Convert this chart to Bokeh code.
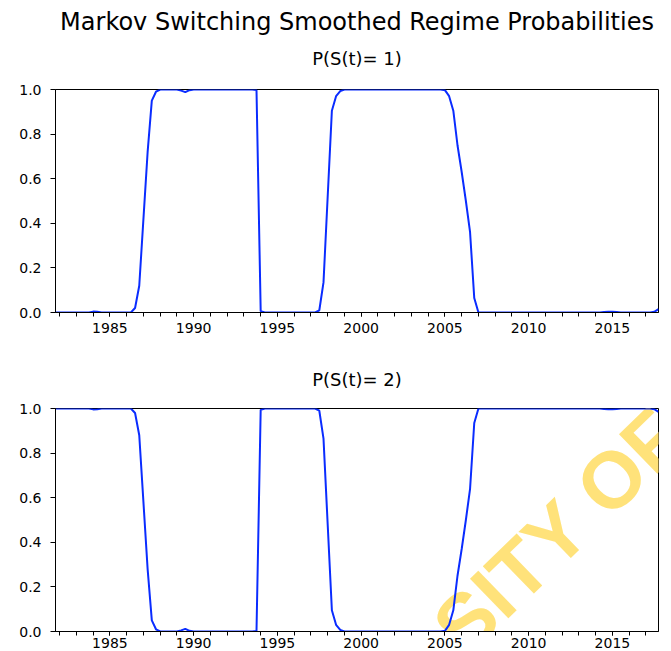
from bokeh.plotting import figure
from bokeh.layouts import column
from bokeh.models import (Range1d, SingleIntervalTicker, FixedTicker,
                          PrintfTickFormatter, Label, LinearAxis, Title)
from bokeh.embed import file_html
from bokeh.resources import INLINE

# ---------------- data (quarterly, 1981Q4 .. 2017Q4) ----------------
start_year = 1981.75
n_obs = 145
dates = [start_year + 0.25 * i for i in range(n_obs)]

prob_regime1 = (
    [0.0] +
    [0.0, 0.0, 0.0, 0.0] +          # 1982
    [0.0, 0.0, 0.0, 0.0] +          # 1983
    [0.004, 0.003, 0.0, 0.0] +      # 1984
    [0.0, 0.0, 0.0, 0.0] +          # 1985
    [0.0, 0.0, 0.02, 0.12] +        # 1986
    [0.42, 0.72, 0.95, 0.99] +      # 1987
    [1.0, 1.0, 1.0, 1.0] +          # 1988
    [1.0, 0.995, 0.988, 0.997] +    # 1989
    [1.0, 1.0, 1.0, 1.0] +          # 1990
    [1.0, 1.0, 1.0, 1.0] +          # 1991
    [1.0, 1.0, 1.0, 1.0] +          # 1992
    [1.0, 1.0, 1.0, 0.998] +        # 1993
    [0.006, 0.0, 0.0, 0.0] +        # 1994
    [0.0, 0.0, 0.0, 0.0] +          # 1995
    [0.0, 0.0, 0.0, 0.0] +          # 1996
    [0.0, 0.0, 0.01, 0.135] +       # 1997
    [0.52, 0.905, 0.97, 0.993] +    # 1998
    [1.0, 1.0, 1.0, 1.0] +          # 1999
    [1.0, 1.0, 1.0, 1.0] +          # 2000
    [1.0, 1.0, 1.0, 1.0] +          # 2001
    [1.0, 1.0, 1.0, 1.0] +          # 2002
    [1.0, 1.0, 1.0, 1.0] +          # 2003
    [1.0, 1.0, 1.0, 1.0] +          # 2004
    [0.997, 0.97, 0.905, 0.75] +    # 2005
    [0.63, 0.50, 0.36, 0.065] +     # 2006
    [0.0, 0.0, 0.0, 0.0] +          # 2007
    [0.0, 0.0, 0.0, 0.0] +          # 2008
    [0.0, 0.0, 0.0, 0.0] +          # 2009
    [0.0, 0.0, 0.0, 0.0] +          # 2010
    [0.0, 0.0, 0.0, 0.0] +          # 2011
    [0.0, 0.0, 0.0, 0.0] +          # 2012
    [0.0, 0.0, 0.0, 0.0] +          # 2013
    [0.0, 0.0, 0.002, 0.003] +      # 2014
    [0.003, 0.002, 0.0, 0.0] +      # 2015
    [0.0, 0.0, 0.0, 0.0] +          # 2016
    [0.0, 0.0, 0.003, 0.015]        # 2017
)

prob_regime2 = (
    [1.0] +
    [1.0, 1.0, 1.0, 1.0] +          # 1982
    [1.0, 1.0, 1.0, 1.0] +          # 1983
    [0.996, 0.997, 1.0, 1.0] +      # 1984
    [1.0, 1.0, 1.0, 1.0] +          # 1985
    [1.0, 1.0, 0.98, 0.88] +        # 1986
    [0.58, 0.28, 0.05, 0.01] +      # 1987
    [0.0, 0.0, 0.0, 0.0] +          # 1988
    [0.0, 0.005, 0.012, 0.003] +    # 1989
    [0.0, 0.0, 0.0, 0.0] +          # 1990
    [0.0, 0.0, 0.0, 0.0] +          # 1991
    [0.0, 0.0, 0.0, 0.0] +          # 1992
    [0.0, 0.0, 0.0, 0.002] +        # 1993
    [0.994, 1.0, 1.0, 1.0] +        # 1994
    [1.0, 1.0, 1.0, 1.0] +          # 1995
    [1.0, 1.0, 1.0, 1.0] +          # 1996
    [1.0, 1.0, 0.99, 0.865] +       # 1997
    [0.48, 0.095, 0.03, 0.007] +    # 1998
    [0.0, 0.0, 0.0, 0.0] +          # 1999
    [0.0, 0.0, 0.0, 0.0] +          # 2000
    [0.0, 0.0, 0.0, 0.0] +          # 2001
    [0.0, 0.0, 0.0, 0.0] +          # 2002
    [0.0, 0.0, 0.0, 0.0] +          # 2003
    [0.0, 0.0, 0.0, 0.0] +          # 2004
    [0.003, 0.03, 0.095, 0.25] +    # 2005
    [0.37, 0.50, 0.64, 0.935] +     # 2006
    [1.0, 1.0, 1.0, 1.0] +          # 2007
    [1.0, 1.0, 1.0, 1.0] +          # 2008
    [1.0, 1.0, 1.0, 1.0] +          # 2009
    [1.0, 1.0, 1.0, 1.0] +          # 2010
    [1.0, 1.0, 1.0, 1.0] +          # 2011
    [1.0, 1.0, 1.0, 1.0] +          # 2012
    [1.0, 1.0, 1.0, 1.0] +          # 2013
    [1.0, 1.0, 0.998, 0.997] +      # 2014
    [0.997, 0.998, 1.0, 1.0] +      # 2015
    [1.0, 1.0, 1.0, 1.0] +          # 2016
    [1.0, 1.0, 0.997, 0.985]        # 2017
)

y_ticks = [0.0, 0.2, 0.4, 0.6, 0.8, 1.0]
main_title = "Markov Switching Smoothed Regime Probabilities"
panel_titles = ["P(S(t)= 1)", "P(S(t)= 2)"]
watermark_text = "SITY OF"

LINE_COLOR = "#0a2cff"
FONT = "DejaVu Sans"
BORDER_LEFT = 55


def make_panel(values, subtitle, border_top, border_bottom, sub_standoff,
               xlabel_standoff):
    p = figure(width=BORDER_LEFT + 603 + 6, height=border_top + 223 + border_bottom,
               frame_width=603, frame_height=223,
               min_border_left=BORDER_LEFT, min_border_right=6,
               min_border_top=border_top, min_border_bottom=border_bottom,
               x_range=Range1d(dates[0], dates[-1]), y_range=Range1d(0, 1),
               output_backend="svg", toolbar_location=None,
               background_fill_color="white", border_fill_color="white")
    p.xgrid.visible = False
    p.ygrid.visible = False
    p.outline_line_color = "black"
    p.outline_line_width = 1

    p.line(dates, values, line_color=LINE_COLOR, line_width=2)

    xa = p.xaxis[0]
    xa.ticker = SingleIntervalTicker(interval=5, num_minor_ticks=5)
    xa.major_tick_in = 0
    xa.major_tick_out = 4
    xa.minor_tick_in = 0
    xa.minor_tick_out = 4
    xa.axis_line_color = "black"
    xa.major_tick_line_color = "black"
    xa.minor_tick_line_color = "black"
    xa.major_label_text_font = FONT
    xa.major_label_text_font_size = "14px"
    xa.major_label_text_color = "black"
    xa.major_label_standoff = xlabel_standoff

    ya = p.yaxis[0]
    ya.ticker = FixedTicker(ticks=y_ticks)
    ya.formatter = PrintfTickFormatter(format="%.1f")
    ya.major_tick_in = 0
    ya.major_tick_out = 5
    ya.minor_tick_line_color = None
    ya.axis_line_color = "black"
    ya.major_tick_line_color = "black"
    ya.major_label_text_font = FONT
    ya.major_label_text_font_size = "14px"
    ya.major_label_text_color = "black"
    ya.major_label_standoff = 9

    # panel subtitle, centred over the frame
    top_axis = LinearAxis(ticker=FixedTicker(ticks=[]), axis_label=subtitle,
                          axis_line_color=None, major_tick_line_color=None,
                          minor_tick_line_color=None, major_tick_out=0,
                          major_tick_in=0, minor_tick_out=0, minor_tick_in=0,
                          major_label_text_font_size="0px",
                          major_label_standoff=0,
                          axis_label_standoff=sub_standoff,
                          axis_label_text_font=FONT,
                          axis_label_text_font_size="18px",
                          axis_label_text_font_style="normal",
                          axis_label_text_color="black")
    p.add_layout(top_axis, "above")
    return p


p1 = make_panel(prob_regime1, panel_titles[0], 87, 30, 21, 6)
p2 = make_panel(prob_regime2, panel_titles[1], 66, 22, 19, 2)

p1.add_layout(Title(text=main_title, align="center", vertical_align="top",
                    standoff=14, text_font=FONT, text_font_size="24px",
                    text_font_style="normal", text_color="black"), "above")

p2.add_layout(Label(x=2011.8, y=0.45, text=watermark_text, angle=0.77,
                    text_align="center", text_baseline="alphabetic",
                    text_font="Liberation Sans", text_font_style="bold",
                    text_font_size="80px", text_color="#ffe27a",
                    level="underlay"))

layout = column(p1, p2)
open("out.html", "w").write(file_html(layout, INLINE))
